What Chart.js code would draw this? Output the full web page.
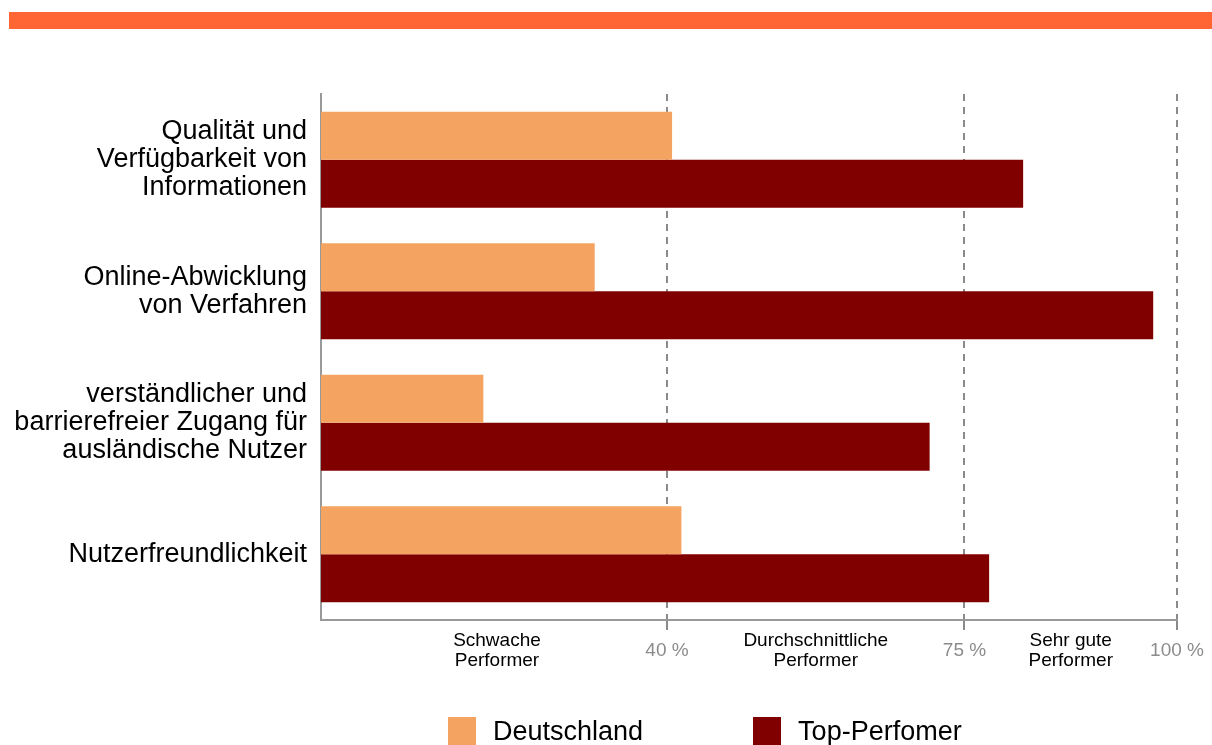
<!DOCTYPE html>
<html>
<head>
<meta charset="utf-8">
<script src="https://cdn.jsdelivr.net/npm/chart.js@4"></script>
<style>
  body { margin: 0; background: #fff; overflow: hidden; font-family: "Liberation Sans", Arial, sans-serif; }
  #wrap { position: relative; width: 1212px; height: 745px; }
  #topbar { position: absolute; left: 9px; top: 12px; width: 1203px; height: 17px; background: #ff6633; }
  #legend { position: absolute; left: 448px; top: 717px; display: flex; gap: 110px; }
  .item { display: flex; align-items: flex-start; font-size: 27px; line-height: 28px; color: #000; }
  .box { width: 28px; height: 28px; margin-right: 17px; }
</style>
</head>
<body>
<div id="wrap">
  <div id="topbar"></div>
  <canvas id="chart" width="1212" height="745"></canvas>
  <div id="legend"></div>
</div>
<script>
// categories (one array of lines per label)
const categories = [
  ["Qualität und", "Verfügbarkeit von", "Informationen"],
  ["Online-Abwicklung", "von Verfahren"],
  ["verständlicher und", "barrierefreier Zugang für", "ausländische Nutzer"],
  ["Nutzerfreundlichkeit"]
];
// values in percent
const deutschland = [40.6, 31.5, 18.4, 41.7];
const topPerformer = [81.9, 97.2, 70.9, 77.9];

// x axis: threshold ticks (dashed lines) and band labels in between
const gridTicks = [40, 75, 100];
const gridLabels = ["40 %", "75 %", "100 %"];
const bandTicks = [20, 57.5, 87.5];
const bandLabels = [["Schwache", "Performer"], ["Durchschnittliche", "Performer"], ["Sehr gute", "Performer"]];

const seriesNames = ["Deutschland", "Top-Perfomer"];
const colors = ["#f4a460", "#800000"];

const xMin = -0.7;
const font = "'Liberation Sans', Arial, sans-serif";

const ctx = document.getElementById('chart').getContext('2d');
const chart = new Chart(ctx, {
  type: 'bar',
  data: {
    labels: categories,
    datasets: [
      { label: seriesNames[0], data: deutschland, backgroundColor: colors[0], base: xMin },
      { label: seriesNames[1], data: topPerformer, backgroundColor: colors[1], base: xMin }
    ]
  },
  options: {
    indexAxis: 'y',
    responsive: false,
    animation: false,
    datasets: {
      bar: { barPercentage: 1, categoryPercentage: 0.73 }
    },
    layout: { padding: { top: 94, right: 35, left: 0, bottom: 0 } },
    plugins: {
      legend: { display: false },
      tooltip: { enabled: false }
    },
    scales: {
      x: {
        min: xMin,
        max: 100,
        afterFit: (scale) => {
          scale.height = 125;
          scale.paddingLeft = 0;
          scale.paddingRight = 0;
        },
        afterBuildTicks: (scale) => {
          const vals = gridTicks.concat(bandTicks).sort((a, b) => a - b);
          scale.ticks = vals.map(v => ({ value: v }));
        },
        grid: {
          color: (c) => gridTicks.includes(c.tick && c.tick.value) ? '#8a8a8a' : 'rgba(0,0,0,0)',
          lineWidth: 2,
          tickLength: 10,
          tickBorderDash: []
        },
        border: { color: '#999', width: 2, dash: [7, 6] },
        ticks: {
          autoSkip: false,
          maxRotation: 0,
          padding: 11,
          crossAlign: 'center',
          font: { family: font, size: 19, lineHeight: '20px' },
          color: (c) => gridTicks.includes(c.tick.value) ? '#8c8c8c' : '#000',
          callback: (v) => {
            const gi = gridTicks.indexOf(v);
            if (gi >= 0) return gridLabels[gi];
            const bi = bandTicks.indexOf(v);
            return bi >= 0 ? bandLabels[bi] : '';
          }
        }
      },
      y: {
        afterFit: (scale) => { scale.width = 321; },
        grid: { display: false, drawTicks: false },
        border: { color: '#999', width: 2 },
        ticks: {
          padding: 14,
          color: '#000',
          font: { family: font, size: 27, lineHeight: '28px' }
        }
      }
    }
  }
});

// legend built from the datasets
const legend = document.getElementById('legend');
chart.data.datasets.forEach(ds => {
  const item = document.createElement('div');
  item.className = 'item';
  const box = document.createElement('div');
  box.className = 'box';
  box.style.background = ds.backgroundColor;
  item.appendChild(box);
  const label = document.createElement('span');
  label.textContent = ds.label;
  item.appendChild(label);
  legend.appendChild(item);
});
</script>
</body>
</html>
